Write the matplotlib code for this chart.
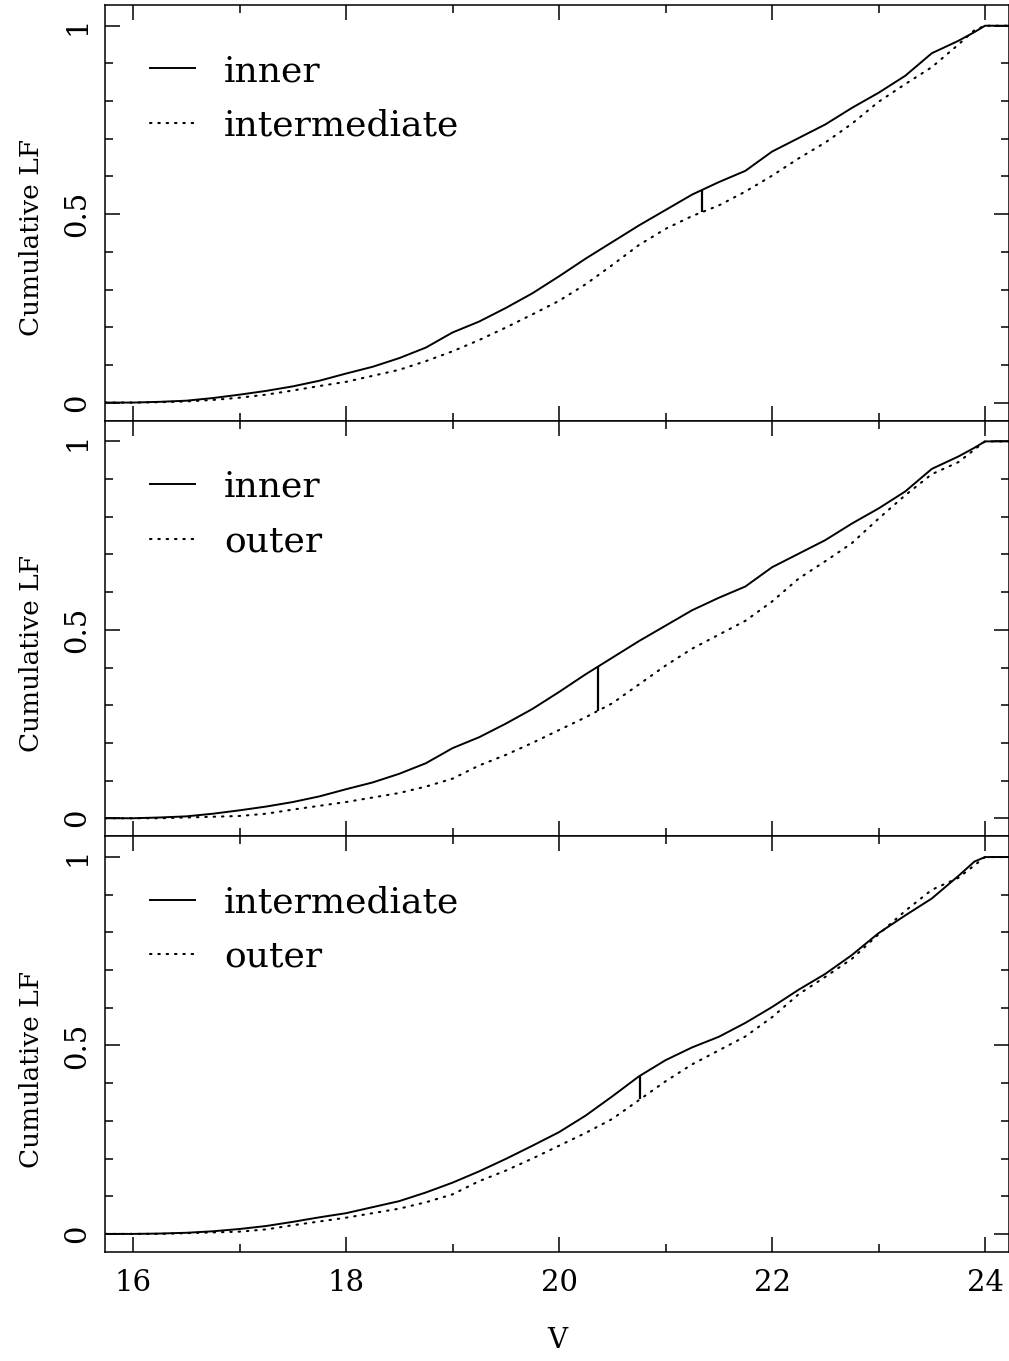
import numpy as np
import matplotlib
matplotlib.use("Agg")
import matplotlib.pyplot as plt
from matplotlib.ticker import FixedLocator, MultipleLocator

plt.rcParams['font.family'] = ['DejaVu Serif']

# V magnitude grid and cumulative luminosity functions per radial zone
mag = [15.74, 16.0, 16.25, 16.5, 16.75, 17.0, 17.25, 17.5, 17.75, 18.0,
       18.25, 18.5, 18.75, 19.0, 19.25, 19.5, 19.75, 20.0, 20.25, 20.5,
       20.75, 21.0, 21.25, 21.5, 21.75, 22.0, 22.25, 22.5, 22.75, 23.0,
       23.25, 23.5, 23.75, 23.9, 24.0, 24.22]
cum_inner = [0.0, 0.0, 0.002, 0.005, 0.012, 0.021, 0.031, 0.043, 0.058, 0.077,
             0.095, 0.118, 0.146, 0.186, 0.215, 0.251, 0.290, 0.335, 0.382, 0.426,
             0.470, 0.511, 0.552, 0.585, 0.615, 0.666, 0.702, 0.738, 0.782, 0.822,
             0.867, 0.927, 0.960, 0.983, 1.0, 1.0]
cum_intermediate = [0.0, 0.0, 0.001, 0.003, 0.007, 0.013, 0.021, 0.032, 0.044, 0.055,
                    0.071, 0.087, 0.110, 0.136, 0.166, 0.199, 0.234, 0.270, 0.314, 0.365,
                    0.418, 0.461, 0.495, 0.523, 0.560, 0.602, 0.648, 0.690, 0.740, 0.798,
                    0.845, 0.890, 0.950, 0.988, 1.0, 1.0]
cum_outer = [0.0, 0.0, 0.000, 0.002, 0.004, 0.006, 0.012, 0.023, 0.033, 0.043,
             0.055, 0.067, 0.084, 0.105, 0.140, 0.168, 0.200, 0.234, 0.268, 0.305,
             0.355, 0.405, 0.450, 0.487, 0.524, 0.575, 0.636, 0.682, 0.730, 0.795,
             0.857, 0.913, 0.945, 0.978, 1.0, 1.0]

zones = {"inner": cum_inner, "intermediate": cum_intermediate, "outer": cum_outer}
panel_pairs = [("inner", "intermediate"), ("inner", "outer"), ("intermediate", "outer")]
ks_mag = [21.34, 20.37, 20.76]   # where the max. separation is marked

W, H = 1009, 1361
fig = plt.figure(figsize=(W / 100, H / 100), dpi=100)

left, right = 105, 1009
top, bottom = 5, 1252
ph = (bottom - top) / 3

axes = []
for i, ((solid, dotted), vks) in enumerate(zip(panel_pairs, ks_mag)):
    y0 = top + i * ph
    ax = fig.add_axes([left / W, 1 - (y0 + ph) / H, (right - left) / W, ph / H])
    axes.append(ax)

    ax.plot(mag, zones[solid], color='black', lw=1.4, label=solid)
    ax.plot(mag, zones[dotted], color='black', lw=1.5, ls=(0, (0.7, 3.3)),
            dash_capstyle='round', label=dotted)
    lo = np.interp(vks, mag, zones[dotted])
    hi = np.interp(vks, mag, zones[solid])
    ax.vlines(vks, lo, hi, color='black', lw=1.6)

    ax.set_xlim(15.737, 24.225)
    ax.set_ylim(-0.048, 1.055)

    ax.xaxis.set_major_locator(MultipleLocator(2))
    ax.xaxis.set_minor_locator(MultipleLocator(1))
    ax.yaxis.set_major_locator(FixedLocator([0, 0.5, 1]))
    ax.yaxis.set_minor_locator(MultipleLocator(0.1))
    ax.set_yticklabels(['0', '0.5', '1'])

    ax.tick_params(which='both', direction='in', top=True, right=True,
                   width=1.1, color='black')
    ax.tick_params(which='major', length=11)
    ax.tick_params(which='minor', length=5.5)
    ax.tick_params(axis='y', labelrotation=90, labelsize=21, pad=10)
    ax.tick_params(axis='x', labelsize=21, pad=12)
    for lab in ax.get_yticklabels():
        lab.set_va('center')
    for sp in ax.spines.values():
        sp.set_linewidth(1.1)

    if i < 2:
        ax.tick_params(axis='x', labelbottom=False)

    ax.set_ylabel('Cumulative LF', fontsize=19)
    ax.yaxis.set_label_coords(-0.068, 0.44)

    ax.legend(loc='upper left', bbox_to_anchor=(0.05, 0.882),
              frameon=False, fontsize=26, handlelength=1.25,
              handletextpad=0.8, labelspacing=0.57, borderpad=0,
              borderaxespad=0)

axes[-1].set_xlabel('V', fontsize=20)
axes[-1].xaxis.set_label_coords(0.5, -0.18)

fig.savefig('out.png', dpi=100)
